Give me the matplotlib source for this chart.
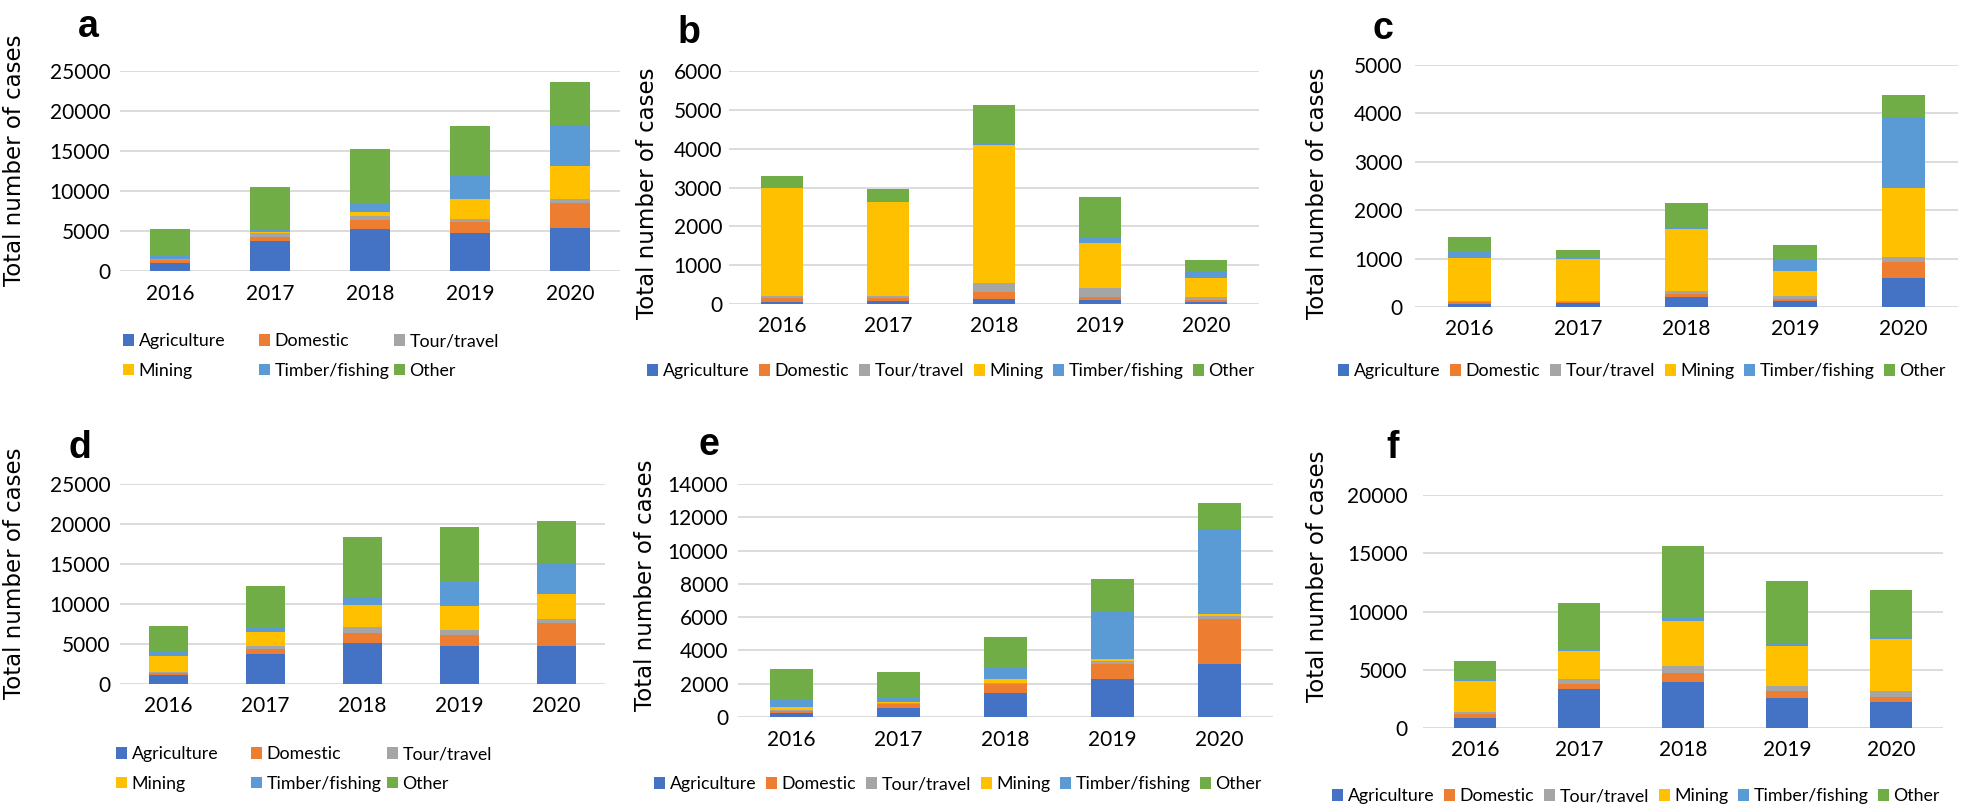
import matplotlib
matplotlib.use('Agg')
import matplotlib.pyplot as plt
import numpy as np

years = ['2016', '2017', '2018', '2019', '2020']
series_names = ['Agriculture', 'Domestic', 'Tour/travel', 'Mining', 'Timber/fishing', 'Other']
colors = ['#4472C4', '#ED7D31', '#A5A5A5', '#FFC000', '#5B9BD5', '#70AD47']

# Panel a
a_agriculture = [1000, 3760, 5230, 4720, 5350]
a_domestic = [340, 500, 1170, 1430, 3140]
a_tour = [120, 540, 500, 370, 500]
a_mining = [90, 50, 460, 2430, 4100]
a_timber = [450, 420, 1000, 3010, 5140]
a_other = [3310, 5180, 6940, 6140, 5390]
# Panel b
b_agriculture = [43, 70, 138, 95, 40]
b_domestic = [112, 76, 172, 77, 63]
b_tour = [60, 60, 223, 241, 69]
b_mining = [2775, 2408, 3551, 1152, 508]
b_timber = [20, 51, 43, 146, 145]
b_other = [275, 293, 998, 1032, 319]
# Panel c
c_agriculture = [62, 83, 207, 124, 599]
c_domestic = [34, 27, 68, 41, 338]
c_tour = [21, 14, 56, 62, 89]
c_mining = [895, 861, 1287, 517, 1440]
c_timber = [131, 41, 42, 227, 1467]
c_other = [310, 145, 482, 310, 440]
# Panel d
d_agriculture = [1130, 3760, 5090, 4760, 4760]
d_domestic = [290, 620, 1300, 1380, 2880]
d_tour = [130, 380, 710, 620, 500]
d_mining = [1960, 1750, 2760, 3010, 3170]
d_timber = [460, 460, 960, 2920, 3840]
d_other = [3220, 5300, 7510, 6930, 5220]
# Panel e
e_agriculture = [240, 560, 1440, 2265, 3210]
e_domestic = [100, 200, 545, 905, 2670]
e_tour = [80, 60, 60, 180, 180]
e_mining = [160, 60, 265, 120, 120]
e_timber = [440, 280, 660, 2910, 5130]
e_other = [1850, 1570, 1845, 1905, 1570]
# Panel f
f_agriculture = [860, 3325, 3955, 2580, 2205]
f_domestic = [340, 455, 775, 600, 490]
f_tour = [175, 430, 630, 460, 455]
f_mining = [2665, 2410, 3840, 3410, 4470]
f_timber = [60, 170, 285, 200, 170]
f_other = [1660, 3930, 6135, 5330, 4040]

W, H = 1961, 807
fig = plt.figure(figsize=(W / 100, H / 100), dpi=100)
fig.patch.set_facecolor('white')

TICK_FONT = ['Lato', 'DejaVu Sans']
TICK_SIZE = 15
LEG_SIZE = 12.8


def fx(x):
    return x / W


def fy(y):
    return 1 - y / H


def panel(box, data, ymax, ystep, letter, letter_xy, ylab_xy, ypad, legend_mode, legend_pos):
    x0, x1, y0, y1 = box
    ax = fig.add_axes([fx(x0), fy(y1), (x1 - x0) / W, (y1 - y0) / H])
    x = np.arange(len(years))
    bottom = np.zeros(len(years))
    handles = []
    for vals, name, c in zip(data, series_names, colors):
        v = np.array(vals, dtype=float)
        h = ax.bar(x, v, 0.4, bottom=bottom, color=c, label=name, zorder=3, linewidth=0)
        bottom += v
        handles.append(h)
    ax.set_xlim(-0.5, 4.5)
    ax.set_ylim(0, ymax)
    ax.set_yticks(np.arange(0, ymax + 1, ystep))
    ax.set_xticks(x)
    ax.set_xticklabels(years)
    ax.grid(axis='y', color='#D9D9D9', linewidth=1.3, zorder=0)
    ax.set_axisbelow(True)
    for s in ax.spines.values():
        s.set_visible(False)
    ax.tick_params(axis='both', length=0, labelsize=TICK_SIZE, colors='black')
    ax.tick_params(axis='y', pad=ypad)
    ax.tick_params(axis='x', pad=9)
    for lab in ax.get_xticklabels() + ax.get_yticklabels():
        lab.set_fontfamily(TICK_FONT)
    # y label
    fig.text(fx(ylab_xy[0]), fy(ylab_xy[1]), 'Total number of cases', rotation=90,
             ha='center', va='center', fontsize=16.5, family='DejaVu Sans')
    # panel letter
    fig.text(fx(letter_xy[0]), fy(letter_xy[1]), letter, ha='center', va='baseline',
             fontsize=27, fontweight='bold', family='Liberation Sans')
    legkw = dict(frameon=False, prop={'family': TICK_FONT, 'size': LEG_SIZE},
                 handlelength=0.62, handleheight=0.62, handletextpad=0.25,
                 borderpad=0, borderaxespad=0, columnspacing=0.55)
    if legend_mode == 'row':
        cx, cy = legend_pos
        fig.legend(handles, series_names, loc='center', ncol=6,
                   bbox_to_anchor=(fx(cx), fy(cy)), bbox_transform=fig.transFigure, **legkw)
    else:
        xs, ycen = legend_pos
        for i, xl in enumerate(xs):
            hs = [handles[i], handles[i + 3]]
            ls = [series_names[i], series_names[i + 3]]
            fig.legend(hs, ls, loc='center left', ncol=1, labelspacing=0.75,
                       bbox_to_anchor=(fx(xl), fy(ycen)), bbox_transform=fig.transFigure,
                       **legkw)
    return ax


panel((120, 620, 71, 271),
      [a_agriculture, a_domestic, a_tour, a_mining, a_timber, a_other],
      25000, 5000, 'a', (88, 37), (15, 160), 7, 'grid', ([123, 259, 394], 356))
panel((729, 1259, 71, 304),
      [b_agriculture, b_domestic, b_tour, b_mining, b_timber, b_other],
      6000, 1000, 'b', (689, 43), (648, 193), 5, 'row', (951, 371))
panel((1415, 1958, 65, 307),
      [c_agriculture, c_domestic, c_tour, c_mining, c_timber, c_other],
      5000, 1000, 'c', (1383, 39), (1317, 193), 9, 'row', (1642, 371))
panel((120, 605, 484, 684),
      [d_agriculture, d_domestic, d_tour, d_mining, d_timber, d_other],
      25000, 5000, 'd', (80, 458), (15, 573), 7, 'grid', ([116, 251, 387], 769))
panel((738, 1273, 484, 717),
      [e_agriculture, e_domestic, e_tour, e_mining, e_timber, e_other],
      14000, 2000, 'e', (709, 455), (645, 585), 7, 'row', (958, 784))
panel((1423, 1943, 495, 728),
      [f_agriculture, f_domestic, f_tour, f_mining, f_timber, f_other],
      20000, 5000, 'f', (1393, 458), (1317, 576), 11, 'row', (1636, 796))

fig.savefig('out.png', dpi=100, facecolor='white')
